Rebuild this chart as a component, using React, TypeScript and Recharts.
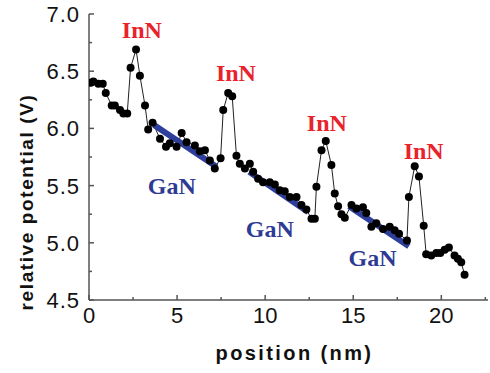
import { ComposedChart, Line, XAxis, YAxis, ReferenceDot } from "recharts";

// measured potential profile
const positionNm = [
  0.1, 0.25, 0.53, 0.78, 0.95, 1.29, 1.47, 1.76, 1.95, 2.17, 2.36, 2.67, 2.89, 3.18,
  3.36, 3.61, 4.03, 4.37, 4.59, 4.97, 5.26, 5.54, 6.01, 6.29, 6.58, 6.86, 7.14, 7.47,
  7.62, 7.9, 8.13, 8.37, 8.56, 8.85, 9.13, 9.32, 9.6, 9.88, 10.26, 10.55, 10.83, 11.11,
  11.4, 11.78, 12.06, 12.34, 12.63, 12.82, 12.91, 13.2, 13.44, 13.76, 13.95, 14.14,
  14.33, 14.52, 14.9, 15.18, 15.55, 15.74, 16.03, 16.31, 16.69, 17.07, 17.35, 17.6,
  18.05, 18.16, 18.49, 18.73, 19.0, 19.14, 19.43, 19.72, 19.94, 20.19, 20.43, 20.75,
  20.94, 21.13, 21.32,
];
const potentialV = [
  6.4, 6.41, 6.39, 6.39, 6.31, 6.2, 6.2, 6.16, 6.13, 6.13, 6.53, 6.69, 6.46, 6.2,
  5.99, 6.05, 5.91, 5.84, 5.87, 5.84, 5.96, 5.88, 5.85, 5.8, 5.81, 5.72, 5.65, 5.74,
  6.16, 6.31, 6.28, 5.76, 5.69, 5.65, 5.69, 5.62, 5.56, 5.53, 5.53, 5.51, 5.46, 5.45,
  5.4, 5.4, 5.33, 5.29, 5.21, 5.21, 5.49, 5.81, 5.89, 5.68, 5.43, 5.32,
  5.25, 5.22, 5.33, 5.3, 5.31, 5.26, 5.14, 5.17, 5.12, 5.14, 5.11, 5.08,
  5.02, 5.4, 5.67, 5.58, 5.15, 4.9, 4.89, 4.91, 4.91, 4.94, 4.96, 4.89,
  4.86, 4.83, 4.72,
];

// linear fits over the GaN regions
const fitStartX = [3.69, 9.09, 14.76];
const fitStartY = [6.03, 5.62, 5.32];
const fitEndX = [7.24, 12.44, 18.16];
const fitEndY = [5.665, 5.27, 4.97];

// annotation anchors
const inNLabelX = [3.0, 8.34, 13.5, 19.0];
const inNLabelY = [6.86, 6.48, 6.05, 5.8];
const gaNLabelX = [4.7, 10.26, 16.1];
const gaNLabelY = [5.5, 5.12, 4.87];

const xTicks = [0, 2.5, 5, 7.5, 10, 12.5, 15, 17.5, 20, 22.5];
const yTicks = [4.5, 4.75, 5, 5.25, 5.5, 5.75, 6, 6.25, 6.5, 6.75, 7];

const data = positionNm.map((x, i) => ({ x, y: potentialV[i] }));
const fits = fitStartX.map((x, i) => [
  { x, y: fitStartY[i] },
  { x: fitEndX[i], y: fitEndY[i] },
]);

const axisColor = "#555";
const sans = "'Liberation Sans', Arial, sans-serif";
const serif = "'Liberation Serif', 'Times New Roman', serif";

function XTick(props: any) {
  const { x, y, payload } = props;
  const major = payload.value % 5 === 0;
  return (
    <g>
      <line x1={x} x2={x} y1={y} y2={y - (major ? 5 : 3)} stroke={axisColor} strokeWidth={1.5} />
      {major && (
        <text x={x} y={y + 23} textAnchor="middle" fontSize={22} fontFamily={sans} fill="#111">
          {payload.value}
        </text>
      )}
    </g>
  );
}

function YTick(props: any) {
  const { x, y, payload } = props;
  const major = Math.abs((payload.value * 2) % 1) < 1e-6;
  return (
    <g>
      <line x1={x} x2={x + (major ? 5 : 3)} y1={y} y2={y} stroke={axisColor} strokeWidth={1.5} />
      {major && (
        <text x={x - 9} y={y + 8} textAnchor="end" fontSize={22} letterSpacing={1} fontFamily={sans} fill="#111">
          {payload.value.toFixed(1)}
        </text>
      )}
    </g>
  );
}

function tagShape(label: string, color: string) {
  return (props: any) => (
    <text
      x={props.cx}
      y={props.cy + 8}
      textAnchor="middle"
      fontSize={24}
      fontWeight="bold"
      fontFamily={serif}
      fill={color}
    >
      {label}
    </text>
  );
}

export default function App() {
  return (
    <div style={{ position: "absolute", left: 0, top: 0 }}>
      <ComposedChart width={490} height={373} margin={{ top: 14, right: 2, bottom: 0, left: 0 }}>
        <XAxis
          type="number"
          dataKey="x"
          domain={[0, 22.65]}
          ticks={xTicks}
          interval={0}
          tickSize={0}
          tickMargin={0}
          tickLine={false}
          tick={<XTick />}
          height={73}
          stroke={axisColor}
          strokeWidth={1.5}
          allowDataOverflow
          label={{
            content: (p: any) => {
              const vb = p.viewBox;
              return (
                <text
                  x={vb.x + vb.width / 2 + 6}
                  y={vb.y + 60}
                  textAnchor="middle"
                  fontSize={20}
                  fontWeight="bold"
                  letterSpacing={2.4}
                  fontFamily={sans}
                  fill="#111"
                >
                  position (nm)
                </text>
              );
            },
          }}
        />
        <YAxis
          type="number"
          domain={[4.5, 7]}
          ticks={yTicks}
          interval={0}
          tickSize={0}
          tickMargin={0}
          tickLine={false}
          tick={<YTick />}
          width={89}
          stroke={axisColor}
          strokeWidth={1.5}
          allowDataOverflow
          label={{
            content: () => (
              <text
                x={26}
                y={202}
                transform="rotate(-90 26 202)"
                textAnchor="middle"
                dominantBaseline="central"
                fontSize={19}
                fontWeight="bold"
                letterSpacing={1.6}
                fontFamily={sans}
                fill="#111"
              >
                relative potential (V)
              </text>
            ),
          }}
        />
        <Line
          data={data}
          dataKey="y"
          type="linear"
          stroke="#222"
          strokeWidth={1}
          dot={{ r: 4, fill: "#000", stroke: "#000", strokeWidth: 0 }}
          isAnimationActive={false}
        />
        {fits.map((seg, i) => (
          <Line
            key={`fit-${i}`}
            data={seg}
            dataKey="y"
            type="linear"
            stroke="#2d3f9b"
            strokeWidth={6}
            dot={false}
            isAnimationActive={false}
          />
        ))}
        {inNLabelX.map((x, i) => (
          <ReferenceDot key={`inn-${i}`} x={x} y={inNLabelY[i]} r={0} shape={tagShape("InN", "#e8232b")} />
        ))}
        {gaNLabelX.map((x, i) => (
          <ReferenceDot key={`gan-${i}`} x={x} y={gaNLabelY[i]} r={0} shape={tagShape("GaN", "#2e3a93")} />
        ))}
      </ComposedChart>
    </div>
  );
}
